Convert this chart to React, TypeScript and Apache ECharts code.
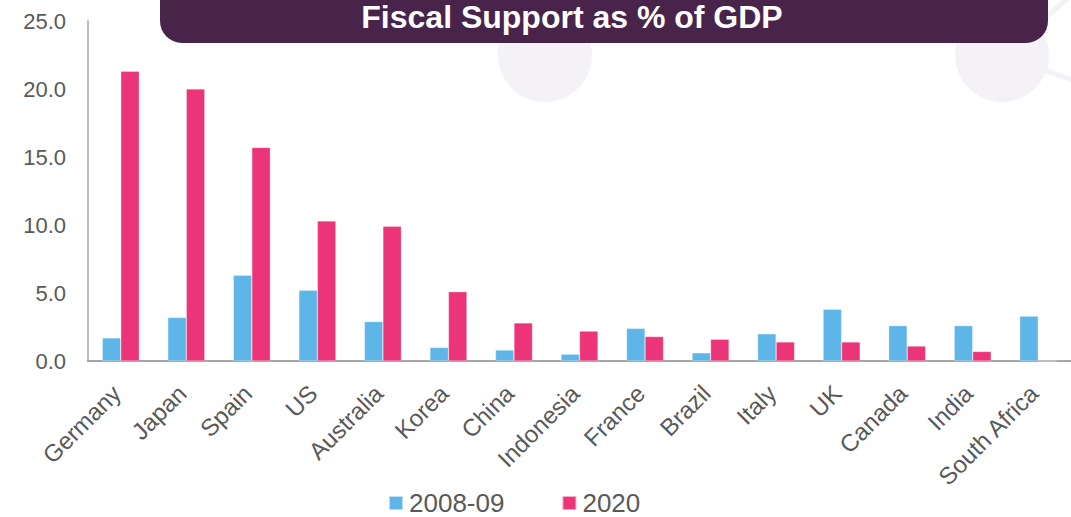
import React, { useEffect, useRef } from "react";
import * as echarts from "echarts";

const categories = [
  "Germany", "Japan", "Spain", "US", "Australia", "Korea", "China", "Indonesia",
  "France", "Brazil", "Italy", "UK", "Canada", "India", "South Africa",
];
const values2008 = [1.7, 3.2, 6.3, 5.2, 2.9, 1.0, 0.8, 0.5, 2.4, 0.6, 2.0, 3.8, 2.6, 2.6, 3.3];
const values2020 = [21.3, 20.0, 15.7, 10.3, 9.9, 5.1, 2.8, 2.2, 1.8, 1.6, 1.4, 1.4, 1.1, 0.7, 0];
const seriesNames = ["2008-09", "2020"];
const titleText = "Fiscal Support as % of GDP";

const FONT = "'Liberation Sans', Arial, sans-serif";
const BLUE = "#5DB6E7";
const PINK = "#EC3478";
const BG = "#F4F2F6";

export default function App() {
  const ref = useRef<HTMLDivElement>(null);
  useEffect(() => {
    document.body.style.margin = "0";
    if (!ref.current) return;
    const chart = echarts.init(ref.current, null, { renderer: "svg" });
    chart.setOption({
      animation: false,
      backgroundColor: "#ffffff",
      textStyle: { fontFamily: FONT },
      grid: { left: 88, top: 21, right: 0, bottom: 156, containLabel: false },
      legend: {
        left: 388,
        top: 490,
        padding: 0,
        itemWidth: 14,
        itemHeight: 14,
        itemGap: 57,
        icon: "rect",
        textStyle: {
          fontSize: 26,
          color: "#595959",
          fontFamily: FONT,
          padding: [0, 0, 0, 1],
        },
        data: seriesNames,
      },
      xAxis: {
        type: "category",
        data: categories,
        axisLine: { lineStyle: { color: "#A6A6A6", width: 2 } },
        axisTick: { show: false },
        axisLabel: {
          rotate: 45,
          fontSize: 24,
          color: "#595959",
          fontFamily: FONT,
          margin: 24,
          padding: [0, 6, 0, 0],
          interval: 0,
        },
      },
      yAxis: {
        type: "value",
        min: 0,
        max: 25,
        interval: 5,
        axisLine: { show: true, lineStyle: { color: "#A6A6A6", width: 1.5 } },
        axisTick: { show: false },
        splitLine: { show: false },
        axisLabel: {
          fontSize: 22,
          color: "#595959",
          fontFamily: FONT,
          margin: 22,
          formatter: (v: number) => v.toFixed(1),
        },
      },
      series: [
        {
          name: seriesNames[0],
          type: "bar",
          data: values2008,
          barWidth: 18.5,
          barGap: "0%",
          itemStyle: { color: BLUE, borderColor: "rgba(255,255,255,0.6)", borderWidth: 0.5 },
        },
        {
          name: seriesNames[1],
          type: "bar",
          data: values2020,
          barWidth: 18.5,
          barGap: "0%",
          itemStyle: { color: PINK, borderColor: "rgba(255,255,255,0.6)", borderWidth: 0.5 },
        },
      ],
      graphic: [
        {
          type: "line",
          z: -10,
          silent: true,
          shape: { x1: 1002, y1: 55, x2: 1080, y2: -12 },
          style: { stroke: BG, lineWidth: 5 },
        },
        {
          type: "line",
          z: -10,
          silent: true,
          shape: { x1: 1002, y1: 55, x2: 1075, y2: 81 },
          style: { stroke: BG, lineWidth: 5 },
        },
        {
          type: "circle",
          z: -10,
          silent: true,
          shape: { cx: 545, cy: 55, r: 47 },
          style: { fill: BG },
        },
        {
          type: "circle",
          z: -10,
          silent: true,
          shape: { cx: 1002, cy: 55, r: 47 },
          style: { fill: BG },
        },
        {
          type: "rect",
          z: 100,
          silent: true,
          shape: { x: 160, y: -25, width: 888, height: 68, r: 22 },
          style: { fill: "#48244B" },
        },
        {
          type: "text",
          z: 101,
          silent: true,
          x: 572,
          y: 17,
          style: {
            text: titleText,
            fill: "#ffffff",
            font: `bold 32px ${FONT}`,
            lineHeight: 30,
            align: "center",
            verticalAlign: "middle",
          },
        },
      ],
    });
    return () => chart.dispose();
  }, []);
  return <div ref={ref} style={{ width: 1071, height: 517 }} />;
}
